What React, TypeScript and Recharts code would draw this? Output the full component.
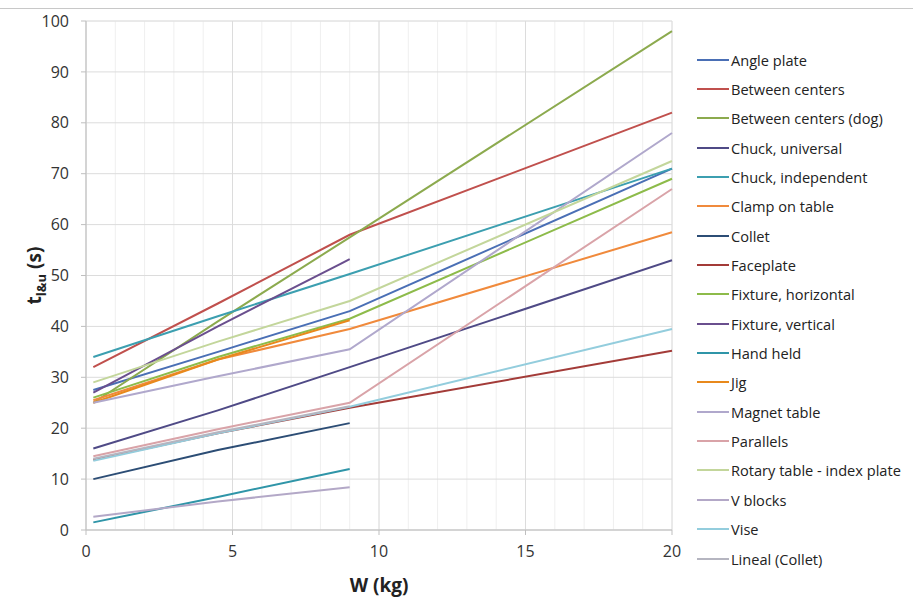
import { LineChart, Line, XAxis, YAxis, CartesianGrid } from "recharts";

const weights = [0.25, 4.5, 9, 20];

const anglePlate = [27.5, 35, 43, 71];
const betweenCenters = [32, 44.5, 58, 82];
const betweenCentersDog = [25, 41, 57.5, 98];
const chuckUniversal = [16, 23.5, 32, 53];
const chuckIndependent = [34, 42, 50.3, 71];
const clampOnTable = [25.5, 33.5, 39.5, 58.5];
const collet = [10, 15.7, 21, null];
const faceplate = [13.8, 19, 24, 35.2];
const fixtureHorizontal = [26, 34, 41.5, 69];
const fixtureVertical = [27, 40, 53.2, null];
const handHeld = [1.5, 6.5, 12, null];
const jig = [25, 33.5, 41.2, null];
const magnetTable = [25, 30.2, 35.5, 78];
const parallels = [14.5, 19.8, 25, 67];
const rotaryTable = [29, 37, 45, 72.5];
const vBlocks = [2.6, 5.6, 8.4, null];
const vise = [13.6, 19, 24.2, 39.5];
const linealCollet = [14, 19.2, 24.3, null];

const seriesNames = [
  "Angle plate",
  "Between centers",
  "Between centers (dog)",
  "Chuck, universal",
  "Chuck, independent",
  "Clamp on table",
  "Collet",
  "Faceplate",
  "Fixture, horizontal",
  "Fixture, vertical",
  "Hand held",
  "Jig",
  "Magnet table",
  "Parallels",
  "Rotary table - index plate",
  "V blocks",
  "Vise",
  "Lineal (Collet)",
];

const seriesValues = [
  anglePlate,
  betweenCenters,
  betweenCentersDog,
  chuckUniversal,
  chuckIndependent,
  clampOnTable,
  collet,
  faceplate,
  fixtureHorizontal,
  fixtureVertical,
  handHeld,
  jig,
  magnetTable,
  parallels,
  rotaryTable,
  vBlocks,
  vise,
  linealCollet,
];

const colors = [
  "#4a6fb5",
  "#c0504d",
  "#8caa4e",
  "#4f4a86",
  "#3c9fb0",
  "#f08a3c",
  "#2c4d75",
  "#a33b38",
  "#8dbb4a",
  "#6a4f8e",
  "#2f95a8",
  "#e8891c",
  "#b0a8cc",
  "#d9a3a8",
  "#c3d69b",
  "#b3a8c7",
  "#93cddd",
  "#b5b5c0",
];

const xTicks = [0, 5, 10, 15, 20];
const yTicks = [0, 10, 20, 30, 40, 50, 60, 70, 80, 90, 100];
const xMinor = Array.from({ length: 21 }, (_, i) => i);
const yMinor = Array.from({ length: 21 }, (_, i) => i * 5);

const data = weights.map((w, i) => {
  const row: Record<string, number | null> = { w };
  seriesNames.forEach((name, s) => {
    row[name] = seriesValues[s][i];
  });
  return row;
});

const font = "'Open Sans', 'Liberation Sans', sans-serif";

function YLabel({ viewBox }: any) {
  const cx = 41;
  const cy = viewBox ? viewBox.y + viewBox.height / 2 : 275;
  return (
    <text
      x={cx}
      y={cy}
      transform={`rotate(-90, ${cx}, ${cy})`}
      textAnchor="middle"
      fontFamily={font}
      fontWeight="bold"
      fontSize={19}
      fill="#222"
    >
      t
      <tspan fontSize={13} dy={5}>
        l&amp;u
      </tspan>
      <tspan dy={-5}> (s)</tspan>
    </text>
  );
}

function Legend() {
  return (
    <div
      style={{
        position: "absolute",
        left: 697,
        top: 36,
        fontFamily: font,
        fontSize: 14.6,
        color: "#222",
      }}
    >
      {seriesNames.map((name, i) => (
        <div
          key={name}
          style={{ display: "flex", alignItems: "center", height: 29.35, whiteSpace: "nowrap" }}
        >
          <span
            style={{
              display: "inline-block",
              width: 32,
              height: 2,
              background: colors[i],
              marginRight: 2,
            }}
          />
          {name}
        </div>
      ))}
    </div>
  );
}

export default function App() {
  return (
    <div
      style={{
        position: "fixed",
        left: 0,
        top: 0,
        width: 913,
        height: 601,
        background: "#fff",
        borderTop: "1px solid #c8c8c8",
        boxSizing: "border-box",
        marginTop: 8,
      }}
    >
      <LineChart
        width={913}
        height={593}
        data={data}
        margin={{ top: 12, right: 241, bottom: 22, left: 0 }}
      >
        <XAxis xAxisId="minor" dataKey="w" type="number" domain={[0, 20]} ticks={xMinor} hide />
        <YAxis yAxisId="minor" type="number" domain={[0, 100]} ticks={yMinor} hide width={86} />
        <CartesianGrid xAxisId="minor" yAxisId="minor" stroke="#efefef" />
        <XAxis
          dataKey="w"
          type="number"
          domain={[0, 20]}
          ticks={xTicks}
          height={50}
          stroke="#bfbfbf"
          tickSize={5}
          tickMargin={11}
          tick={{ fill: "#333", fontSize: 16, fontFamily: font }}
          label={{
            value: "W (kg)",
            position: "insideBottom",
            offset: -12,
            fill: "#222",
            fontSize: 19,
            fontWeight: "bold",
            fontFamily: font,
          }}
        />
        <YAxis
          type="number"
          domain={[0, 100]}
          ticks={yTicks}
          width={86}
          stroke="#bfbfbf"
          tickSize={5}
          tickMargin={12}
          tick={{ fill: "#333", fontSize: 16, fontFamily: font }}
          label={<YLabel />}
        />
        <CartesianGrid stroke="#dcdcdc" />
        {seriesNames.map((name, i) => (
          <Line
            key={name}
            dataKey={name}
            stroke={colors[i]}
            strokeWidth={2}
            dot={false}
            type="linear"
            isAnimationActive={false}
          />
        ))}
      </LineChart>
      <Legend />
    </div>
  );
}
